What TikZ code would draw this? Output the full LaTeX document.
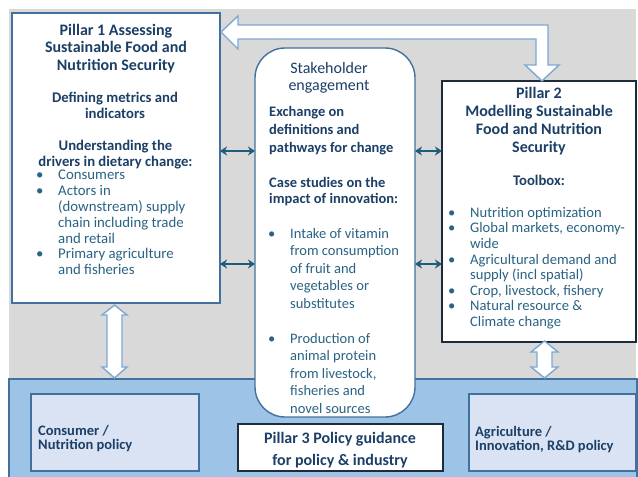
\documentclass[tikz,border=0pt]{standalone}
\usepackage{fontspec}
\setmainfont{Carlito}
\usetikzlibrary{arrows.meta,calc}
\definecolor{bggray}{HTML}{D9D9D9}
\definecolor{bandblue}{HTML}{9DC3E6}
\definecolor{lightbox}{HTML}{DAE3F3}
\definecolor{steel}{HTML}{41719C}
\definecolor{hollowline}{HTML}{7DA7D4}
\definecolor{darkline}{HTML}{1E2B38}
\definecolor{arrowteal}{HTML}{1F5C7A}
\definecolor{titlecol}{HTML}{1B3F66}
\definecolor{bodycol}{HTML}{2A6384}
\newcommand{\bul}{\makebox[22pt][l]{\textbullet}}
\newcommand{\ind}{\hspace*{22pt}}
\tikzset{
  sized/.style 2 args={minimum width=#1pt, minimum height=#2pt, inner sep=0pt, outer sep=0pt},
  pillarone/.style={draw=steel, line width=2pt, fill=white},
  pillartwo/.style={draw=darkline, line width=2pt, fill=white},
  pillarthree/.style={draw=darkline, line width=1.3pt, fill=white},
  stakebox/.style={draw=steel, line width=1.4pt, fill=white, rounded corners=30pt},
  policybox/.style={draw=steel, line width=1.2pt, fill=lightbox},
  hollow/.style={draw=hollowline, line width=1.4pt, fill=white, line join=miter},
  dblarrow/.style={draw=arrowteal, line width=1.8pt, {Stealth[length=7pt,width=9pt]}-{Stealth[length=7pt,width=9pt]}},
  titletxt/.style={font=\bfseries\fontsize{16}{17.5}\selectfont, text=titlecol, align=center, inner sep=0pt, anchor=north},
  subtxt/.style={font=\bfseries\fontsize{14.7}{16}\selectfont, text=titlecol, align=center, inner sep=0pt, anchor=north},
  leftbold/.style={font=\bfseries\fontsize{14.5}{18}\selectfont, text=titlecol, align=left, inner sep=0pt, anchor=north west},
  bullettxt/.style={font=\fontsize{14.8}{15.8}\selectfont, text=bodycol, align=left, inner sep=0pt, anchor=north west},
  policytxt/.style={font=\bfseries\fontsize{14.5}{14.5}\selectfont, text=titlecol, align=left, inner sep=0pt, anchor=north west},
}
\begin{document}
\begin{tikzpicture}[x=1pt,y=-1pt]
\useasboundingbox (0,0) rectangle (638,477);
% backgrounds
\fill[bggray] (9,9) rectangle (636,380);
\draw[steel, line width=1.2pt, fill=bandblue] (9,480) -- (9,379) -- (637,379) -- (637,480);

% boxes
\node[pillarone, sized={208}{290}] (p1) at (116,158) {};
\node[pillartwo, sized={194}{261}] (p2) at (539,211.5) {};
\node[policybox, sized={168}{77}] (cons) at (115,432.5) {};
\node[policybox, sized={167}{77}] (agri) at (552.5,432.5) {};
\node[stakebox, sized={160}{369}] (sh) at (335,232.5) {};
\node[pillarthree, sized={205}{47}] (p3) at (340.5,447.5) {};

% hollow elbow arrow from pillar 2 to pillar 1
\coordinate (tipA) at ([xshift=1pt]p1.east |- 0,32);
\coordinate (tipB) at ([yshift=0pt]p2.north -| 542,0);
\draw[hollow] (tipA) -- (238,16) -- (238,25) -- (548,25) -- (548,65) -- (559,65)
  -- (tipB) -- (525,65) -- (536,65) -- (536,39) -- (238,39) -- (238,49) -- cycle;

% hollow vertical double arrows
\coordinate (la) at (114.5,305);
\draw[hollow] (la) -- ++(12.5,10) -- ++(-5,0) -- ++(0,52) -- ++(5,0) -- ++(-12.5,11)
  -- ++(-12.5,-11) -- ++(5,0) -- ++(0,-52) -- ++(-5,0) -- cycle;
\coordinate (ra) at (544.5,341);
\draw[hollow] (ra) -- ++(13.5,11) -- ++(-6,0) -- ++(0,15) -- ++(6,0) -- ++(-13.5,11)
  -- ++(-13.5,-11) -- ++(6,0) -- ++(0,-15) -- ++(-6,0) -- cycle;

% small double arrows
\coordinate (ya) at (0,151);
\coordinate (yb) at (0,264);
\draw[dblarrow] (p1.east |- ya) -- (sh.west |- ya);
\draw[dblarrow] (p1.east |- yb) -- (sh.west |- yb);
\draw[dblarrow] (sh.east |- ya) -- (p2.west |- ya);
\draw[dblarrow] (sh.east |- yb) -- (p2.west |- yb);

% Pillar 1 text
\node[titletxt] (p1title) at (116,24) {Pillar 1 Assessing\\Sustainable Food and\\Nutrition Security};
\node[subtxt] (p1def) at (115,92) {Defining metrics and\\indicators};
\node[subtxt, font=\bfseries\fontsize{14.7}{15.5}\selectfont] (p1und) at (115.5,140) {Understanding the\\drivers in dietary change:};
\node[bullettxt] (p1list) at (36,170) {\bul Consumers\\\bul Actors in\\\ind (downstream) supply\\\ind chain including trade\\\ind and retail\\\bul Primary agriculture\\\ind and fisheries};

% Stakeholder text
\node[titletxt, font=\fontsize{16}{17}\selectfont] (shtitle) at (329,62) {Stakeholder\\engagement};
\node[leftbold] (shex) at (269,106) {Exchange on\\definitions and\\pathways for change};
\node[leftbold, font=\bfseries\fontsize{14.5}{16.5}\selectfont] (shcase) at (269,177) {Case studies on the\\impact of innovation:};
\node[bullettxt, font=\fontsize{14.5}{17.5}\selectfont] (shlist) at (268,228) {\bul Intake of vitamin\\\ind from consumption\\\ind of fruit and\\\ind vegetables or\\\ind substitutes\\[17.5pt]\bul Production of\\\ind animal protein\\\ind from livestock,\\\ind fisheries and\\\ind novel sources};

% Pillar 2 text
\node[titletxt, font=\bfseries\fontsize{16}{18}\selectfont] (p2title) at (539,87) {Pillar 2\\Modelling Sustainable\\Food and Nutrition\\Security};
\node[subtxt] (p2tool) at (539,175) {Toolbox:};
\node[bullettxt, font=\fontsize{14.6}{15.6}\selectfont] (p2list) at (448,207) {\bul Nutrition optimization\\\bul Global markets, economy-\\\ind wide\\\bul Agricultural demand and\\\ind supply (incl spatial)\\\bul Crop, livestock, fishery\\\bul Natural resource \&\\\ind Climate change};

% Pillar 3 text
\node[titletxt, font=\bfseries\fontsize{16}{22}\selectfont] (p3txt) at (340,432) {Pillar 3 Policy guidance\\for policy \& industry};

% policy boxes text
\node[policytxt] (constxt) at (38,425) {Consumer /\\Nutrition policy};
\node[policytxt] (agritxt) at (475,426) {Agriculture /\\Innovation, R\&D policy};
\end{tikzpicture}
\end{document}
